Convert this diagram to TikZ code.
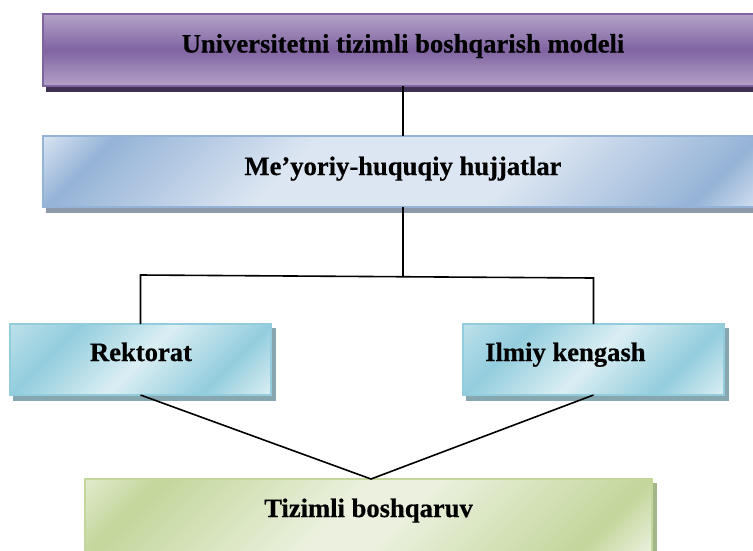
\documentclass[tikz,border=0pt]{standalone}
\usepackage{fontspec}
\setmainfont{Liberation Serif}[BoldFeatures={FakeBold=0.5}]
\definecolor{pL}{HTML}{B3A2C7}
\definecolor{pD}{HTML}{8064A2}
\definecolor{pS}{HTML}{3F3151}
\definecolor{bB}{HTML}{95B3D7}
\definecolor{bS}{HTML}{8E9AAB}
\definecolor{aB}{HTML}{93CDDD}
\definecolor{aS}{HTML}{86A7B0}
\definecolor{gB}{HTML}{C3D69B}
\definecolor{gS}{HTML}{A3B68A}
\pgfdeclareverticalshading{blueband}{100bp}{rgb(0bp)=(0.84,0.89,0.945); rgb(32.5bp)=(0.84,0.89,0.945); rgb(35.67bp)=(0.584,0.702,0.843); rgb(44.76bp)=(0.863,0.902,0.949); rgb(55.24bp)=(0.863,0.902,0.949); rgb(64.33bp)=(0.584,0.702,0.843); rgb(67.5bp)=(0.84,0.89,0.945); rgb(100bp)=(0.84,0.89,0.945)}
\pgfdeclareverticalshading{aquaband}{100bp}{rgb(0bp)=(0.74,0.88,0.92); rgb(42.66bp)=(0.74,0.88,0.92); rgb(45.8bp)=(0.576,0.804,0.867); rgb(50bp)=(0.855,0.933,0.953); rgb(54.2bp)=(0.576,0.804,0.867); rgb(57.34bp)=(0.855,0.933,0.953); rgb(100bp)=(0.855,0.933,0.953)}
\pgfdeclareverticalshading{greenband}{100bp}{rgb(0bp)=(0.88,0.92,0.80); rgb(35.82bp)=(0.88,0.92,0.80); rgb(39.13bp)=(0.765,0.839,0.608); rgb(48.58bp)=(0.922,0.945,0.871); rgb(51.42bp)=(0.922,0.945,0.871); rgb(60.87bp)=(0.765,0.839,0.608); rgb(64.18bp)=(0.922,0.945,0.871); rgb(100bp)=(0.922,0.945,0.871)}
\begin{document}
\begin{tikzpicture}[x=1pt,y=-1pt,
  box/.style={rectangle, inner sep=0pt, outer sep=0pt, line width=1.2pt},
  shadowed/.style={preaction={fill=#1, draw=#1, transform canvas={shift={(4pt,-5pt)}}}},
  band/.style={fill=white, path picture={\shade[shading=#1, shading angle=225]
      ([shift={(-400pt,-400pt)}]path picture bounding box.center) rectangle ++(800pt,800pt);}},
  lbl/.style={inner sep=0pt, font=\fontsize{26.6}{30}\selectfont\bfseries},
  conn/.style={draw=black, line width=1.6pt}]
\useasboundingbox (0,0) rectangle (753,550);
% boxes
\node[box, shadowed=pS, draw=pD, top color=pL, bottom color=pL, middle color=pD,
      minimum width=720pt, minimum height=72pt] (title) at (403,50) {};
\node[box, shadowed=bS, draw=bB, band=blueband,
      minimum width=720pt, minimum height=71pt] (norm) at (403,171.5) {};
\node[box, shadowed=aS, draw=aB, band=aquaband,
      minimum width=261pt, minimum height=71pt] (rek) at (140.5,359.5) {};
\node[box, shadowed=aS, draw=aB, band=aquaband,
      minimum width=261pt, minimum height=71pt] (ilm) at (593.5,359.5) {};
\node[box, shadowed=gS, draw=gB, band=greenband,
      minimum width=567pt, minimum height=75pt] (tiz) at (368.5,516.5) {};
% texts
\node[lbl, anchor=base] (titlet) at (403,52.5) {Universitetni tizimli boshqarish modeli};
\node[lbl, anchor=base] (normt) at (403,175) {Me’yoriy-huquqiy hujjatlar};
\node[lbl, anchor=base] (rekt) at (141,361) {Rektorat};
\node[lbl, anchor=base west] (ilmt) at (485,361) {Ilmiy kengash};
\node[lbl, anchor=base] (tizt) at (368.5,517) {Tizimli boshqaruv};
% connectors
\coordinate (jL) at (140.5,275);
\coordinate (jR) at (593.5,278);
\coordinate (jM) at (403,276.7);
\coordinate (meet) at (371,479);
\draw[conn] (title.south) -- (norm.north);
\draw[conn] (norm.south) -- (jM);
\draw[conn] (rek.north) -- (jL) -- (jR) -- (ilm.north);
\draw[conn] (rek.south) -- (meet) -- (ilm.south);
\end{tikzpicture}
\end{document}
